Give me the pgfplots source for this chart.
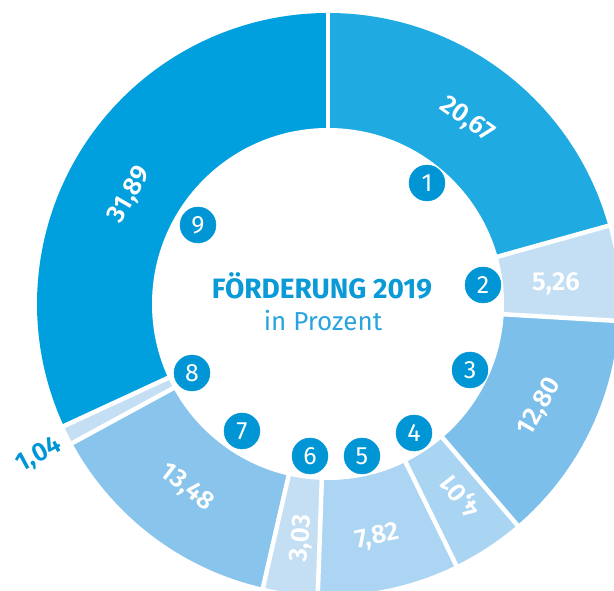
\documentclass[border=0pt]{standalone}
\usepackage{fontspec}
\setmainfont{Fira Sans}
\newfontfamily\semib{Fira Sans SemiBold}
\usepackage{pgfplots}
\pgfplotsset{compat=1.18}
\definecolor{c9}{HTML}{009FDE}
\definecolor{c1}{HTML}{1FAAE2}
\definecolor{c2}{HTML}{C4DFF4}
\definecolor{c3}{HTML}{7BBFEA}
\definecolor{c4}{HTML}{A9D4F2}
\definecolor{c5}{HTML}{ABD5F3}
\definecolor{c6}{HTML}{C4DFF4}
\definecolor{c7}{HTML}{88C4EC}
\definecolor{c8}{HTML}{C4DFF4}
\definecolor{circ}{HTML}{0096D6}
\definecolor{ttl}{HTML}{0A9AD7}
\definecolor{sub}{HTML}{2AA4DE}
% sector from cumulative percent #1 to #2
\newcommand\sector[3]{\fill[#3] (328,287) -- ++({90-3.6*#1}:291pt) arc[start angle={90-3.6*#1}, end angle={90-3.6*#2}, radius=291pt] -- cycle;}
\newcommand\gap[1]{\draw[white, line width=4.5pt] (328,287) -- ++({90-3.6*#1}:300pt);}
\newcommand\val[4]{\node[white, rotate=#3, text depth=0pt, inner sep=0pt, font=\semib\fontsize{26}{26}\selectfont] at (#1,#2) {#4};}
\begin{document}
\begin{tikzpicture}
\begin{axis}[x=1pt, y=1pt, xmin=0, xmax=614, ymin=0, ymax=591, hide axis, clip=true]
% shares in percent: 20.67, 5.26, 12.80, 4.01, 7.82, 3.03, 13.48, 1.04, 31.89
\sector{0}{20.67}{c1}
\sector{20.67}{25.93}{c2}
\sector{25.93}{38.73}{c3}
\sector{38.73}{42.74}{c4}
\sector{42.74}{50.56}{c5}
\sector{50.56}{53.59}{c6}
\sector{53.59}{67.07}{c7}
\sector{67.07}{68.11}{c8}
\sector{68.11}{100}{c9}
\gap{0}\gap{20.67}\gap{25.93}\gap{38.73}\gap{42.74}\gap{50.56}\gap{53.59}\gap{67.07}\gap{68.11}
\fill[white] (328,287) circle[radius=176pt];
\val{468}{473}{-35}{20,67}
\val{556}{309}{0}{5,26}
\val{538}{185}{60}{12,80}
\val{460}{94}{128}{4,01}
\val{377}{56}{12}{7,82}
\val{300}{53}{85}{3,03}
\val{188}{105}{-38}{13,48}
\val{128}{397}{60}{31,89}
\node[circ, rotate=28, text depth=0pt, inner sep=0pt, font=\semib\fontsize{26}{26}\selectfont] at (38,138) {1,04};
\addplot[color=circ, only marks, mark=*, mark size=18pt, mark options={fill=circ, draw=circ},
  nodes near coords, point meta=explicit symbolic, nodes near coords align={center},
  every node near coord/.append style={white, anchor=center, inner sep=0pt, text depth=0pt, font=\fontsize{25}{25}\selectfont}]
  coordinates {(427,408)[1] (483,306)[2] (470,221)[3] (414,158)[4] (362,135)[5] (310,135)[6] (242,160)[7] (192,218)[8] (198,366)[9]};
\node[ttl, anchor=base, font=\bfseries\fontsize{28}{30}\selectfont] at (322,292) {FÖRDERUNG 2019};
\node[sub, anchor=base, font=\fontsize{26}{30}\selectfont] at (323,260) {in Prozent};
\end{axis}
\pgfresetboundingbox
\path[use as bounding box] (current axis.south west) rectangle (current axis.north east);
\end{tikzpicture}
\end{document}
